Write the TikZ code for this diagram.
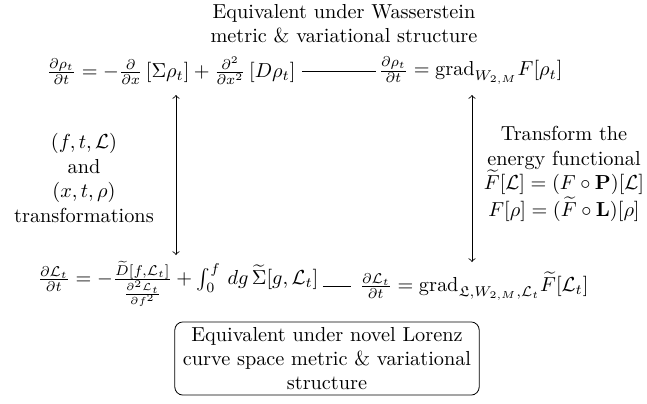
\documentclass[tikz,border=0pt]{standalone}
\usepackage{amsmath,amssymb}
\begin{document}
\begin{tikzpicture}[x=0.493pt,y=-0.493pt,
  lbl/.style={align=center,inner sep=1pt},
  eq/.style={inner sep=1pt},
  conn/.style={draw,line width=0.4pt},
  twoway/.style={conn,<->,>=to},
  notebox/.style={draw,rounded corners=4pt,align=center,inner xsep=4pt,inner ysep=2.5pt}]
\useasboundingbox (0,0) rectangle (647,403);
\node[lbl] (title) at (344,24) {Equivalent under Wasserstein\\metric \& variational structure};
\node[eq] (tl) at (171,71) {$\frac{\partial\rho_t}{\partial t}=-\frac{\partial}{\partial x}\left[\Sigma\rho_t\right]+\frac{\partial^2}{\partial x^2}\left[D\rho_t\right]$};
\node[eq] (tr) at (470.5,71) {$\frac{\partial\rho_t}{\partial t}=\mathrm{grad}_{W_{2,M}}F[\rho_t]$};
\node[eq] (bl) at (178,284) {$\frac{\partial\mathcal{L}_t}{\partial t}=-\frac{\widetilde{D}[f,\mathcal{L}_t]}{\frac{\partial^2\mathcal{L}_t}{\partial f^2}}+\int_0^f\,dg\,\widetilde{\Sigma}[g,\mathcal{L}_t]$};
\node[eq] (br) at (474,286) {$\frac{\partial\mathcal{L}_t}{\partial t}=\mathrm{grad}_{\mathfrak{L},W_{2,M},\mathcal{L}_t}\widetilde{F}[\mathcal{L}_t]$};
\node[lbl] (lt) at (84,178) {$(f,t,\mathcal{L})$\\and\\$(x,t,\rho)$\\transformations};
\node[lbl] (rt) at (564,174) {Transform the\\energy functional\\$\widetilde{F}[\mathcal{L}]=(F\circ\mathbf{P})[\mathcal{L}]$\\$F[\rho]=(\widetilde{F}\circ\mathbf{L})[\rho]$};
\node[notebox] (box) at (327,358.5) {Equivalent under novel Lorenz\\curve space metric \& variational\\structure};
\draw[conn,shorten <=2pt] (tl) -- (tr);
\draw[conn,shorten <=1pt,shorten >=3pt] (bl.east |- br.west) -- (br.west);
\coordinate (la) at (176,95);
\coordinate (lb) at (176,255);
\coordinate (ra) at (472,95);
\coordinate (rb) at (472,262);
\draw[twoway] (la) -- (lb);
\draw[twoway] (ra) -- (rb);
\end{tikzpicture}
\end{document}
